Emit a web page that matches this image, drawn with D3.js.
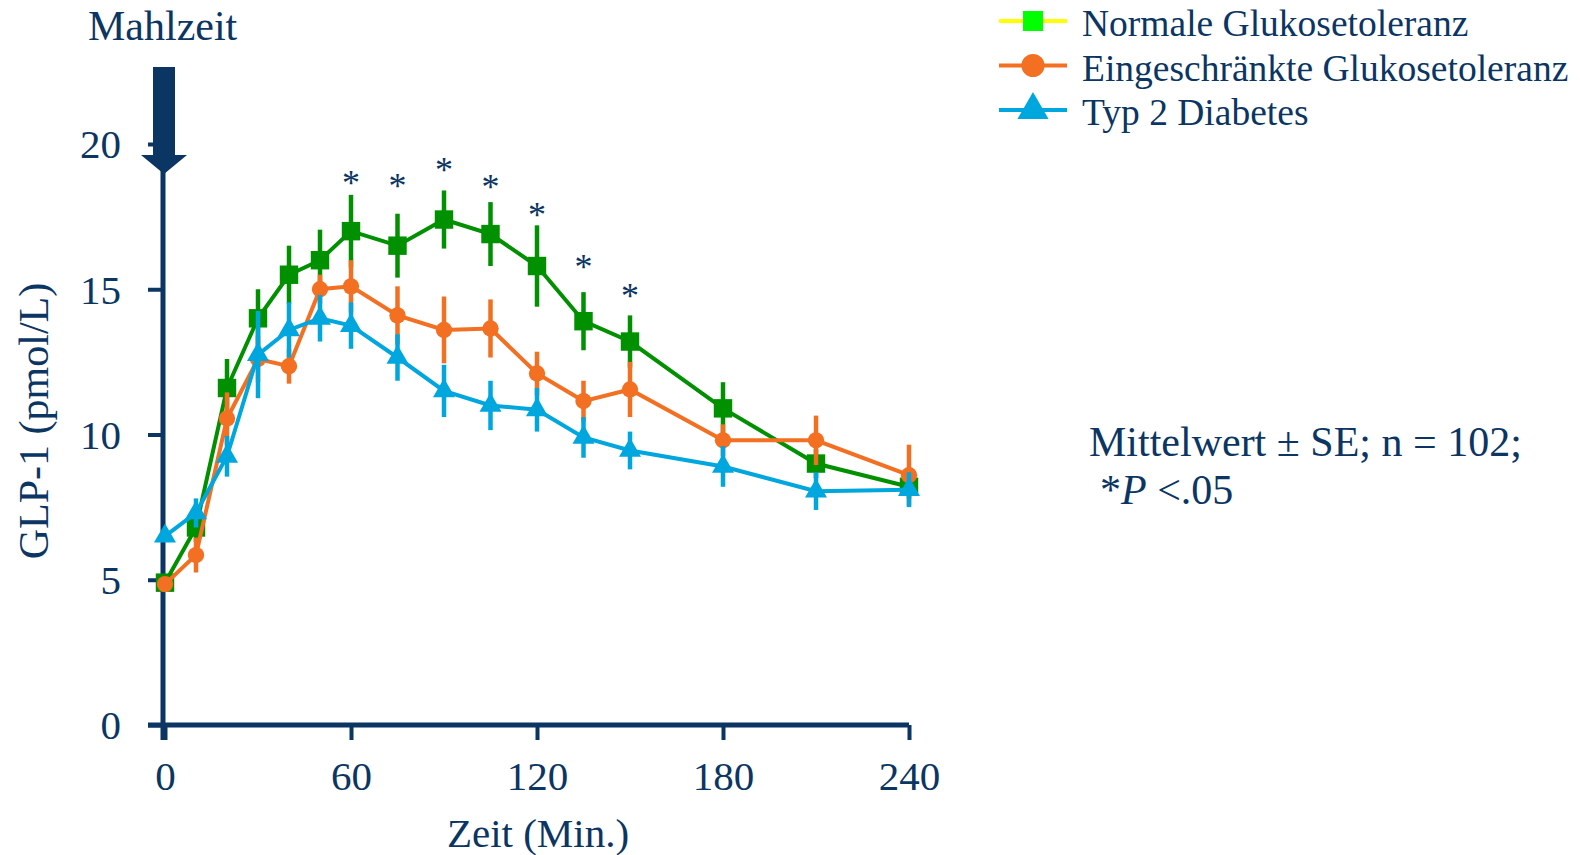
<html>
<script src="https://cdnjs.cloudflare.com/ajax/libs/d3/7.8.5/d3.min.js"></script>
<style>
  body { margin: 0; background: #fff; }
  text { font-family: "Liberation Serif", "Times New Roman", serif; fill: #0b3563; }
</style>
<body>
  <svg width="1582" height="855"></svg>
</body>
<script>
  // Zeitpunkte (Min.) und Mittelwerte / SE
  const times = [0, 10, 20, 30, 40, 50, 60, 75, 90, 105, 120, 135, 150, 180, 210, 240];
  const normal = [4.9, 6.8, 11.6, 14.0, 15.5, 16.0, 17.0, 16.5, 17.4, 16.9, 15.8, 13.9, 13.2, 10.9, 9.0, 8.2];
  const normalSE = [0.2, 0.5, 1.0, 1.0, 1.0, 1.05, 1.25, 1.1, 1.0, 1.1, 1.4, 1.0, 0.9, 0.9, 0.5, 0.4];
  const impaired = [4.85, 5.85, 10.55, 12.6, 12.35, 15.0, 15.1, 14.1, 13.6, 13.65, 12.1, 11.15, 11.55, 9.8, 9.8, 8.6];
  const impairedSE = [0.2, 0.6, 0.9, 0.8, 0.6, 0.5, 0.9, 1.0, 1.15, 1.0, 0.75, 0.7, 0.95, 0.55, 0.85, 1.05];
  const diabetes = [6.5, 7.3, 9.25, 12.75, 13.6, 14.0, 13.75, 12.65, 11.5, 11.0, 10.85, 9.9, 9.45, 8.9, 8.05, 8.1];
  const diabetesSE = [0.2, 0.5, 0.7, 1.5, 0.95, 0.8, 0.8, 0.8, 0.9, 0.85, 0.75, 0.7, 0.65, 0.7, 0.65, 0.6];

  // Signifikanz-Sternchen
  const starTimes = [60, 75, 90, 105, 120, 135, 150];
  const starValues = [18.8, 18.7, 19.25, 18.65, 17.7, 15.9, 14.9];

  const xTicks = [0, 60, 120, 180, 240];
  const yTicks = [0, 5, 10, 15, 20];

  const navy = '#0b3563';

  const series = [
    { name: 'Normale Glukosetoleranz', values: normal, se: normalSE, color: '#009000',
      legendLine: '#ffff00', legendFill: '#00ff00', symbol: d3.symbolSquare, size: 340, legendSize: 400 },
    { name: 'Eingeschränkte Glukosetoleranz', values: impaired, se: impairedSE, color: '#f36f21',
      legendLine: '#f36f21', legendFill: '#f36f21', symbol: d3.symbolCircle, size: 210, legendSize: 420 },
    { name: 'Typ 2 Diabetes', values: diabetes, se: diabetesSE, color: '#00a6de',
      legendLine: '#00a6de', legendFill: '#00a6de', symbol: d3.symbolTriangle, size: 210, legendSize: 420 }
  ];

  const svg = d3.select('svg');

  const x = d3.scaleLinear().domain([0, 240]).range([165, 909]);
  const y = d3.scaleLinear().domain([0, 20]).range([725, 144]);
  const axisX = 163;

  // Achsen
  const yAxis = svg.append('g')
    .attr('transform', `translate(${axisX},0)`)
    .call(d3.axisLeft(y).tickValues(yTicks).tickSize(15).tickPadding(27));
  yAxis.select('.domain').remove();
  yAxis.selectAll('line').attr('stroke', navy).attr('stroke-width', 4);
  yAxis.selectAll('text').attr('font-size', 41).attr('dy', '0.34em')
    .style('font-family', '"Liberation Serif", serif').attr('fill', navy);

  const xAxis = svg.append('g')
    .attr('transform', 'translate(0,725)')
    .call(d3.axisBottom(x).tickValues(xTicks).tickSize(15).tickPadding(0));
  xAxis.select('.domain').remove();
  xAxis.selectAll('line').attr('stroke', navy).attr('stroke-width', 4);
  xAxis.selectAll('text').attr('y', 65).attr('dy', 0).attr('font-size', 41)
    .style('font-family', '"Liberation Serif", serif').attr('fill', navy);

  svg.append('line')
    .attr('x1', axisX).attr('x2', axisX).attr('y1', 150).attr('y2', 740)
    .attr('stroke', navy).attr('stroke-width', 5);
  svg.append('line')
    .attr('x1', 148).attr('x2', 909).attr('y1', 725).attr('y2', 725)
    .attr('stroke', navy).attr('stroke-width', 5);

  // Mahlzeit-Pfeil
  svg.append('rect').attr('x', 153).attr('y', 67).attr('width', 22).attr('height', 90).attr('fill', navy);
  svg.append('path').attr('d', 'M141,155 L187,155 L164,174 Z').attr('fill', navy);
  svg.append('text').attr('x', 88).attr('y', 40).attr('font-size', 42).text('Mahlzeit');

  // Achsentitel
  svg.append('text')
    .attr('transform', 'translate(48,421) rotate(-90)')
    .attr('text-anchor', 'middle').attr('font-size', 42)
    .text('GLP-1 (pmol/L)');
  svg.append('text')
    .attr('x', 538).attr('y', 847)
    .attr('text-anchor', 'middle').attr('font-size', 41)
    .text('Zeit (Min.)');

  // Daten
  const line = d3.line().x((d, i) => x(times[i])).y(d => y(d));

  series.forEach(s => {
    const g = svg.append('g');
    g.selectAll('.err')
      .data(s.values)
      .enter()
      .append('line')
      .attr('x1', (d, i) => x(times[i]))
      .attr('x2', (d, i) => x(times[i]))
      .attr('y1', (d, i) => y(d + s.se[i]))
      .attr('y2', (d, i) => y(d - s.se[i]))
      .attr('stroke', s.color)
      .attr('stroke-width', 4.5);
    g.append('path')
      .datum(s.values)
      .attr('d', line)
      .attr('fill', 'none')
      .attr('stroke', s.color)
      .attr('stroke-width', 4);
    g.selectAll('.pt')
      .data(s.values)
      .enter()
      .append('path')
      .attr('d', d3.symbol().type(s.symbol).size(s.size))
      .attr('transform', (d, i) => `translate(${x(times[i])},${y(d)})`)
      .attr('fill', s.color);
  });

  // Sternchen
  svg.selectAll('.star')
    .data(starTimes)
    .enter()
    .append('text')
    .attr('x', d => x(d))
    .attr('y', (d, i) => y(starValues[i]) + 16)
    .attr('text-anchor', 'middle')
    .attr('font-size', 36)
    .text('*');

  // Legende
  const legend = svg.append('g');
  series.forEach((s, i) => {
    const cy = 21 + i * 44.5;
    legend.append('line')
      .attr('x1', 999).attr('x2', 1067).attr('y1', cy).attr('y2', cy)
      .attr('stroke', s.legendLine).attr('stroke-width', 4);
    legend.append('path')
      .attr('d', d3.symbol().type(s.symbol).size(s.legendSize))
      .attr('transform', `translate(1033,${cy})`)
      .attr('fill', s.legendFill);
    legend.append('text')
      .attr('x', 1082).attr('y', cy + 15)
      .attr('font-size', 37.5)
      .text(s.name);
  });

  // Anmerkung
  svg.append('text').attr('x', 1089).attr('y', 456).attr('font-size', 42)
    .text('Mittelwert ± SE; n = 102;');
  const note = svg.append('text').attr('x', 1100).attr('y', 504).attr('font-size', 42);
  note.append('tspan').text('*');
  note.append('tspan').attr('font-style', 'italic').text('P');
  note.append('tspan').text(' <.05');
</script>
</html>
